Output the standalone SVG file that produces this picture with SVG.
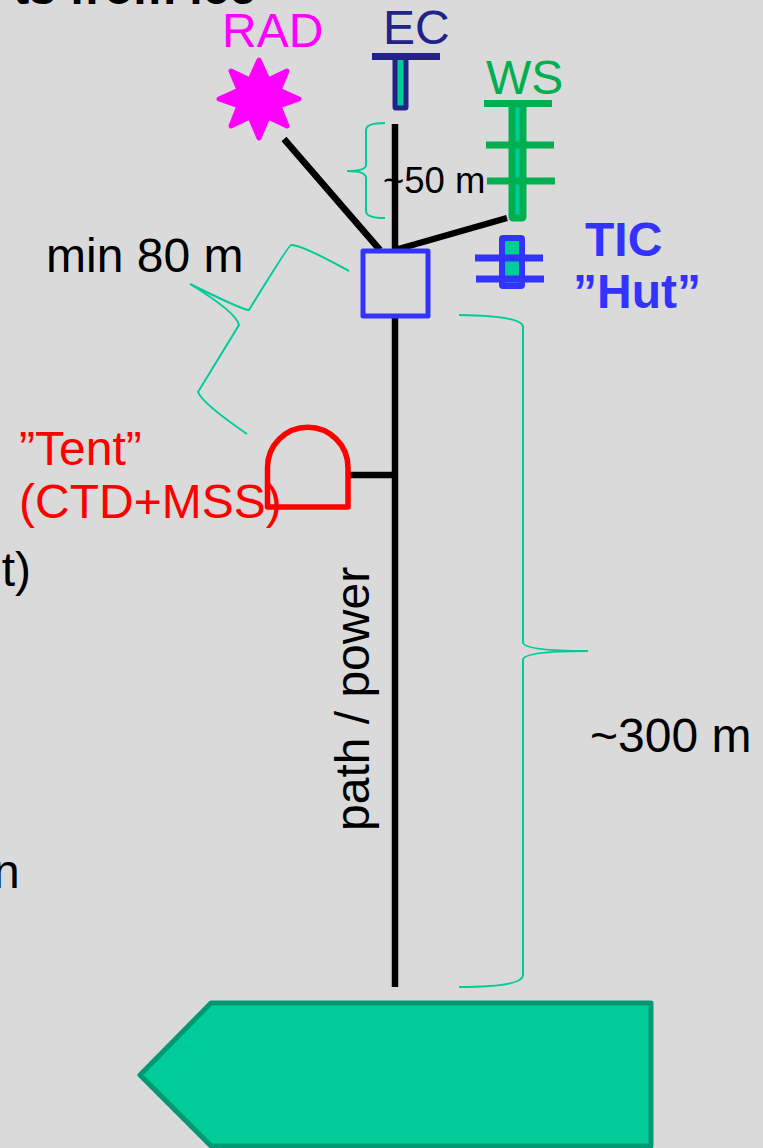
<svg xmlns="http://www.w3.org/2000/svg" width="763" height="1148" viewBox="0 0 763 1148">
<style>
text{font-family:"Liberation Sans",Arial,sans-serif;font-size:48px}
.t{fill:#000}
.c{fill:none;stroke:#000;stroke-width:6.500}
.b{fill:none;stroke:#00cc99;stroke-width:2}
.g{stroke:#00b050;stroke-width:7;fill:none}
.h{stroke:#3333ff;stroke-width:7;fill:none}
</style>
<rect width="763" height="1148" fill="#dadada"/>
<g id="clipped-text">
<text x="256" y="4" font-weight="bold" text-anchor="end">ts from ice</text>
<text x="31" y="586" class="t" text-anchor="end">nt)</text>
<text x="-7" y="888" class="t">n</text>
</g>
<g id="connectors">
<path class="c" d="M395 124V250M395 316V987M284 139L380 250M395 250L507 218M349 475H395"/>
</g>
<g id="RAD">
<path d="M259 60L268 80L287 71L279 90L299 99L279 106L287 126L268 117L259 138L250 117L231 126L239 106L219 99L239 90L231 71L250 80Z" fill="#ff00ff" stroke="#ff00ff" stroke-width="5" stroke-linejoin="round"/>
<text x="222" y="47" fill="#ff00ff">RAD</text>
</g>
<g id="EC">
<rect x="395" y="56" width="11" height="52" rx="1" fill="#00cc99" stroke="#222288" stroke-width="5"/>
<path d="M372 56.500H440" stroke="#222288" stroke-width="7"/>
<text x="383" y="44" fill="#222288">EC</text>
</g>
<g id="WS">
<rect x="512" y="104" width="11" height="114" rx="1" fill="#00cc99" stroke="#00b050" stroke-width="7"/>
<path class="g" d="M484 103.500H552M486 145H554M487 181H555"/>
<text x="486" y="94" fill="#00b050">WS</text>
</g>
<g id="TIC">
<rect x="502" y="238" width="20" height="48" rx="1" fill="#00cc99" stroke="#3333ff" stroke-width="6"/>
<path class="h" d="M475 258H543M476 279H544"/>
<text x="585" y="256" font-weight="bold" fill="#3333ff">TIC</text>
<text x="573" y="308" font-weight="bold" fill="#3333ff">”Hut”</text>
</g>
<g id="hut">
<rect x="363" y="251" width="65" height="65" fill="none" stroke="#3333ff" stroke-width="5" stroke-linejoin="round"/>
</g>
<g id="tent">
<path d="M267.500 507V467.500A40.250 40.250 0 0 1 348 467.500V507Z" fill="none" stroke="#ff0000" stroke-width="5.500" stroke-linejoin="round"/>
<text x="19" y="465" fill="#ff0000">”Tent”</text>
<text x="19" y="518" fill="#ff0000">(CTD+MSS)</text>
</g>
<g id="ship">
<path d="M211 1003H651V1146H211L140 1075Z" fill="#00cc99" stroke="#009973" stroke-width="5" stroke-linejoin="round"/>
</g>
<g id="braces">
<path class="b" d="M385 123Q366 123 366 130V165Q366 171 347 171Q366 171 366 178V211Q366 218 385 218"/>
<path class="b" d="M349 271Q300 244 291 245Q289 245 249 310Q245 311 190 284Q236 312 239 325L198 392Q202 403 247 434"/>
<path class="b" d="M459 315Q523 316 523 327V642Q523 651 588 651Q523 651 523 660V975Q523 987 459 987"/>
</g>
<g id="labels">
<text x="46" y="272" class="t">min 80 m</text>
<text x="383" y="193" style="font-size:36.500px">~50 m</text>
<text x="590" y="752" class="t">~300 m</text>
<text transform="translate(369 831) rotate(-90)" class="t">path / power</text>
</g>
</svg>
